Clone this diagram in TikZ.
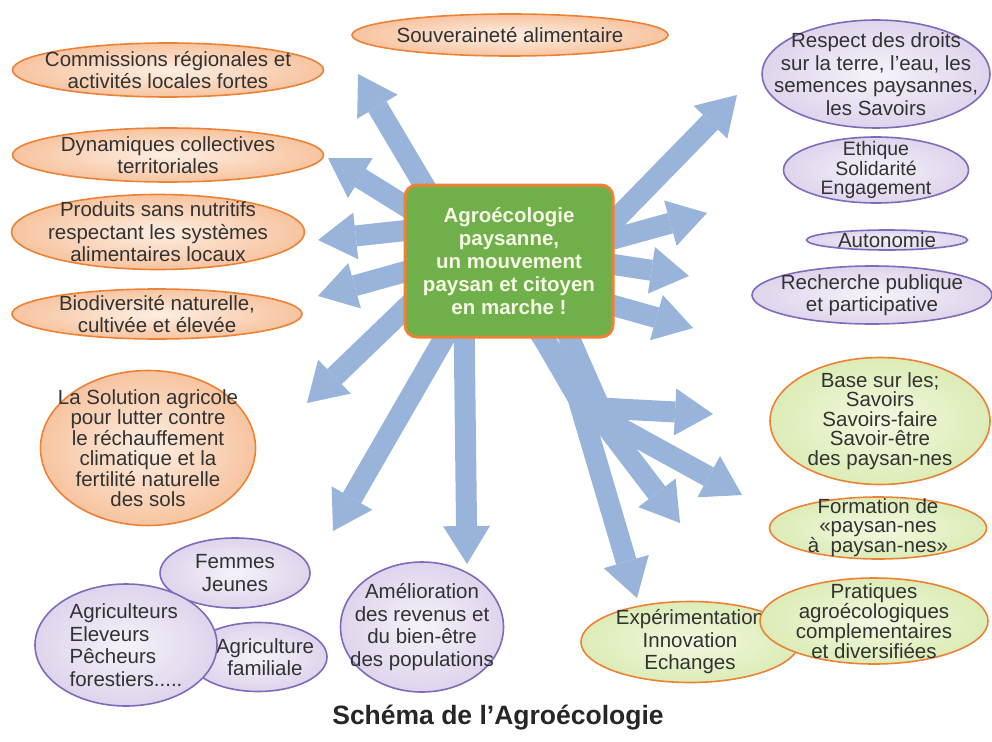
\documentclass[tikz,border=0pt]{standalone}
\usepackage{fontspec}
\setmainfont{Liberation Sans}
\usetikzlibrary{arrows.meta,shapes.geometric,backgrounds}
\definecolor{arrowblue}{RGB}{152,180,218}
\definecolor{hubgreen}{RGB}{112,176,74}
\definecolor{hubtext}{RGB}{246,247,228}
\definecolor{rimorange}{RGB}{236,130,54}
\definecolor{peachin}{RGB}{253,238,226}
\definecolor{peachout}{RGB}{247,196,160}
\definecolor{lilacin}{RGB}{246,242,250}
\definecolor{lilacout}{RGB}{222,212,236}
\definecolor{lilacrim}{RGB}{128,106,186}
\definecolor{limein}{RGB}{243,248,225}
\definecolor{limeout}{RGB}{220,236,182}
\definecolor{inkgray}{RGB}{50,50,50}

\begin{document}
\begin{tikzpicture}[x=1pt, y=-1pt,
  bubble/.style={ellipse, inner sep=-60pt, align=center, text=inkgray,
                 line width=1.6pt, font=\fontsize{20.5}{22.5}\selectfont},
  peachbub/.style={bubble, draw=rimorange, inner color=peachin, outer color=peachout},
  lilacbub/.style={bubble, draw=lilacrim, inner color=lilacin, outer color=lilacout},
  limebub/.style={bubble, draw=rimorange, inner color=limein, outer color=limeout},
  hubbox/.style={rectangle, rounded corners=12pt, draw=rimorange, line width=3pt,
                 fill=hubgreen, text=hubtext, align=center, inner sep=0pt,
                 font=\fontsize{20.5}{23}\selectfont\bfseries},
  arr/.style={draw=arrowblue, line width=21pt, line join=round, shorten <=-14pt,
              -{Triangle[length=38pt, width=47pt, line width=0pt]}},
  ttl/.style={font=\fontsize{26.5}{30}\selectfont\bfseries, text=black!85},
]
  \useasboundingbox (0,0) rectangle (992,741);

  % ---- Centre ----
  \node[hubbox, minimum width=208pt, minimum height=152pt] (hub) at (509,261)
      {Agroécologie\\paysanne,\\un mouvement\\paysan et citoyen\\en marche !};

  % ---- Left column ----
  \node[peachbub, minimum width=316pt, minimum height=42pt] (souv) at (510,35)
      {Souveraineté alimentaire};
  \node[peachbub, minimum width=311pt, minimum height=54pt] (comm) at (168,70)
      {Commissions régionales et\\activités locales fortes};
  \node[peachbub, minimum width=311pt, minimum height=54pt] (dyna) at (168,155)
      {Dynamiques collectives\\territoriales};
  \node[peachbub, minimum width=293pt, minimum height=75pt] (prod) at (158,232)
      {Produits sans nutritifs\\respectant les systèmes\\alimentaires locaux};
  \node[peachbub, minimum width=290pt, minimum height=50pt] (biod) at (157,314)
      {Biodiversité naturelle,\\cultivée et élevée};
  \node[peachbub, minimum width=215pt, minimum height=155pt,
        font=\fontsize{20.5}{20.5}\selectfont] (solu) at (148,448)
      {La Solution agricole\\pour lutter contre\\le réchauffement\\climatique et la\\fertilité naturelle\\des sols};

  % ---- Bottom left ----
  \node[lilacbub, minimum width=150pt, minimum height=70pt] (femm) at (235,573)
      {Femmes\\Jeunes};
  \node[lilacbub, minimum width=138pt, minimum height=69pt] (fami) at (258,657)
      {\hspace*{14pt}Agriculture\\\hspace*{14pt}familiale};
  \node[lilacbub, minimum width=182pt, minimum height=122pt, align=left] (agri) at (126,645)
      {Agriculteurs\\Eleveurs\\Pêcheurs\\forestiers.....};
  \node[lilacbub, minimum width=163pt, minimum height=130pt] (amel) at (422,627)
      {Amélioration\\des revenus et\\du bien-être\\des populations};

  % ---- Right column ----
  \node[lilacbub, minimum width=185pt, minimum height=66pt,
        font=\fontsize{19.5}{19.5}\selectfont] (ethi) at (876,170)
      {Ethique\\Solidarité\\Engagement};
  \node[lilacbub, minimum width=228pt, minimum height=108pt] (resp) at (876,74)
      {Respect des droits\\sur la terre, l'eau, les\\semences paysannes,\\les Savoirs};
  \node[lilacbub, minimum width=161pt, minimum height=20pt] (auto) at (887,240)
      {Autonomie};
  \node[lilacbub, minimum width=240pt, minimum height=58pt] (rech) at (872,295)
      {Recherche publique\\et participative};
  \node[limebub, minimum width=220pt, minimum height=127pt,
        font=\fontsize{20.5}{19.5}\selectfont] (base) at (880,421)
      {Base sur les;\\Savoirs\\Savoirs-faire\\Savoir-être\\des paysan-nes};
  \node[limebub, minimum width=217pt, minimum height=62pt,
        font=\fontsize{20.5}{18.5}\selectfont] (form) at (878,528)
      {Formation de\\«paysan-nes\\à\ \ paysan-nes»};
  \node[limebub, minimum width=218pt, minimum height=81pt] (expe) at (690,642)
      {Expérimentation\\Innovation\\Echanges};
  \node[limebub, minimum width=228pt, minimum height=86pt,
        font=\fontsize{20.5}{20}\selectfont] (prat) at (874,621)
      {Pratiques\\agroécologiques\\complementaires\\et diversifiées};

  % ---- Title ----
  \node[ttl] (titre) at (498,718) {Schéma de l'Agroécologie};

  % ---- Arrow ends ----
  \coordinate (tComm) at (358,74);
  \coordinate (tDyna) at (328,158);
  \coordinate (tProd) at (318,240);
  \coordinate (tBiod) at (318,296);
  \coordinate (tSolu) at (307,403);
  \coordinate (tFemm) at (333,531);
  \coordinate (tAmel) at (467,564);
  \coordinate (tResp) at (737,95);
  \coordinate (tEthi) at (707,213);
  \coordinate (tAuto) at (689,276);
  \coordinate (tRech) at (693,328);
  \coordinate (forkA) at (600,408);
  \coordinate (forkB) at (602,418);
  \coordinate (forkC) at (590,405);
  \coordinate (forkD) at (578,398);
  \coordinate (tBase) at (713,414);
  \coordinate (tForm) at (742,495);
  \coordinate (tPrat) at (680,523);
  \coordinate (tExpe) at (637,598);

  % ---- Arrows, behind everything ----
  \begin{scope}[on background layer]
    \draw[arr] (hub.138) -- (tComm);
    \draw[arr] (hub.152) -- (tDyna);
    \draw[arr] (hub.164) -- (tProd);
    \draw[arr] (hub.186) -- (tBiod);
    \draw[arr] (hub.205) -- (tSolu);
    \draw[arr] (hub.230) -- (tFemm);
    \draw[arr] (hub.240) -- (tAmel);
    \draw[arr] (hub.21) -- (tResp);
    \draw[arr] (hub.12) -- (tEthi);
    \draw[arr] (hub.358) -- (tAuto);
    \draw[arr] (hub.337) -- (tRech);
    % branching trunk
    \draw[arr] (hub.308) -- (forkA) -- (tBase);
    \draw[arr] (hub.308) -- (forkB) -- (tForm);
    \draw[arr] (hub.294) -- (forkC) -- (tPrat);
    \draw[arr] (hub.294) -- (forkD) -- (tExpe);
  \end{scope}
\end{tikzpicture}
\end{document}
